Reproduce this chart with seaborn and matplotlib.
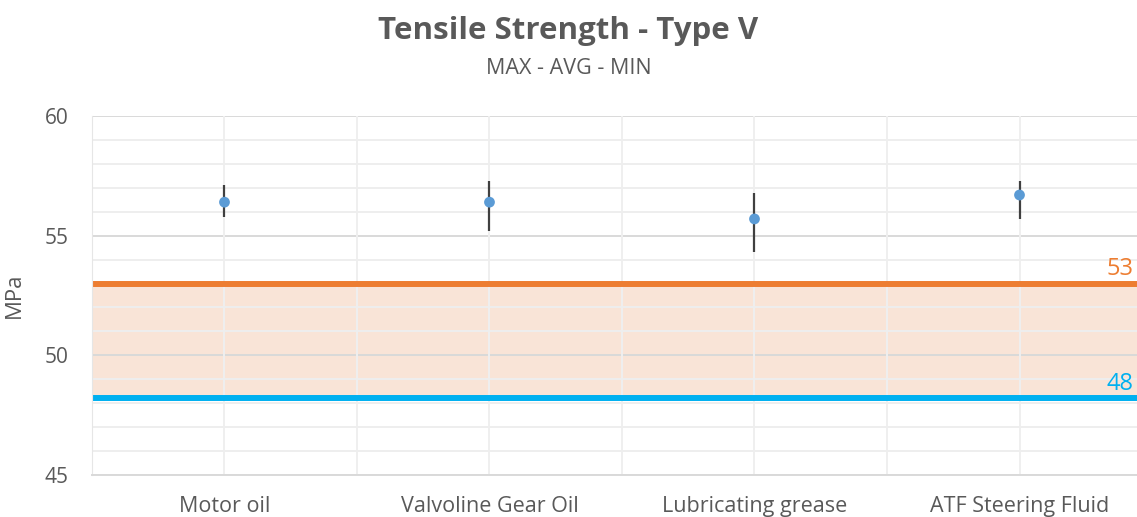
import numpy as np
import pandas as pd
import matplotlib.pyplot as plt
import seaborn as sns

categories = ["Motor oil", "Valvoline Gear Oil", "Lubricating grease", "ATF Steering Fluid"]
avg_vals = [56.4, 56.4, 55.7, 56.7]
max_vals = [57.1, 57.3, 56.8, 57.3]
min_vals = [55.8, 55.2, 54.3, 55.7]
upper_limit = 53.0
lower_limit = 48.2

df = pd.DataFrame({"material": categories, "avg": avg_vals, "max": max_vals, "min": min_vals})

sns.set_style("white")
plt.rcParams["font.family"] = ["Open Sans", "DejaVu Sans"]
grey = "#595959"

fig = plt.figure(figsize=(11.37, 5.17), dpi=100)
ax = fig.add_axes([0.0809, 0.0812, 0.9323, 0.6944])

# band between the limits
ax.axhspan(lower_limit, upper_limit, color="#F9E4D7", zorder=0)

# grid
for y in np.arange(45, 61, 1):
    if y % 5 == 0:
        ax.axhline(y, color="#D9D9D9", lw=1.4, zorder=1)
    else:
        ax.axhline(y, color="#EEEEEE", lw=1.4, zorder=1)
for x in np.arange(-0.5, 4, 0.5):
    ax.axvline(x, color="#EFEFEF", lw=1.4, zorder=1)

ax.axhline(upper_limit, color="#ED7D31", lw=4.3, zorder=2)
ax.axhline(lower_limit, color="#00B0F0", lw=4.3, zorder=2)

ax.vlines(range(len(df)), df["min"], df["max"], color="#404040", lw=1.6, zorder=3)
sns.scatterplot(data=df, x="material", y="avg", ax=ax, color="#5B9BD5", s=60,
                edgecolor="none", zorder=4)

ax.text(3.43, upper_limit + 0.12, "53", color="#ED7D31", fontsize=17, ha="right", va="bottom")
ax.text(3.43, lower_limit + 0.12, "48", color="#00B0F0", fontsize=17, ha="right", va="bottom")

ax.set_xlim(-0.5, 3.5)
ax.set_ylim(45, 60)
ax.set_yticks([45, 50, 55, 60])
ax.tick_params(axis="x", length=0, labelsize=15.5, labelcolor=grey, pad=15)
ax.tick_params(axis="y", length=0, labelsize=15, labelcolor=grey, pad=17)
ax.set_xlabel("")
ax.set_ylabel("MPa", fontsize=16, color=grey, labelpad=14)

for s in ["top", "right"]:
    ax.spines[s].set_visible(False)
ax.spines["left"].set_color("#E6E6E6")
ax.spines["bottom"].set_color("#D9D9D9")
ax.spines["bottom"].set_linewidth(1.4)

fig.text(0.5, 0.94, "Tensile Strength - Type V", ha="center", va="center",
         fontsize=22.5, fontweight="bold", color=grey)
fig.text(0.5, 0.868, "MAX - AVG - MIN", ha="center", va="center", fontsize=15.5, color=grey)

fig.savefig("out.png", dpi=100)
